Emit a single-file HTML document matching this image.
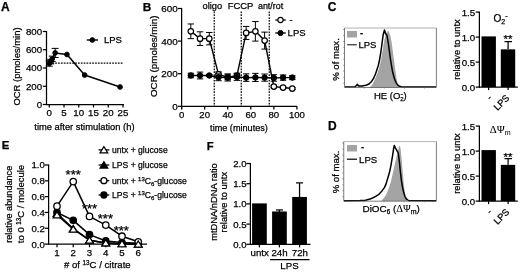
<!DOCTYPE html>
<html><head><meta charset="utf-8"><title>Figure</title>
<style>
html,body{margin:0;padding:0;background:#fff;}
svg{display:block;font-family:"Liberation Sans",sans-serif;fill:#000;}
text{stroke:#000;stroke-width:0.25px;}
</style></head><body>
<svg width="520" height="272" viewBox="0 0 520 272">
<rect width="520" height="272" fill="#fff"/>
<defs><filter id="soft" x="0" y="0" width="520" height="272" filterUnits="userSpaceOnUse"><feGaussianBlur stdDeviation="0.4"/></filter></defs>
<g filter="url(#soft)">
<text x="1.1" y="11.3" font-size="12" text-anchor="start" font-weight="bold" >A</text>
<line x1="46.5" y1="31.0" x2="46.5" y2="105.0" stroke="#000" stroke-width="1.25" />
<line x1="46.0" y1="104.5" x2="124" y2="104.5" stroke="#000" stroke-width="1.25" />
<line x1="42.8" y1="104.5" x2="46.5" y2="104.5" stroke="#000" stroke-width="1.25" />
<text x="42.1" y="107.9" font-size="9.7" text-anchor="end" font-weight="normal" >0</text>
<line x1="42.8" y1="86.25" x2="46.5" y2="86.25" stroke="#000" stroke-width="1.25" />
<text x="42.1" y="89.65" font-size="9.7" text-anchor="end" font-weight="normal" >200</text>
<line x1="42.8" y1="68.0" x2="46.5" y2="68.0" stroke="#000" stroke-width="1.25" />
<text x="42.1" y="71.4" font-size="9.7" text-anchor="end" font-weight="normal" >400</text>
<line x1="42.8" y1="49.75" x2="46.5" y2="49.75" stroke="#000" stroke-width="1.25" />
<text x="42.1" y="53.15" font-size="9.7" text-anchor="end" font-weight="normal" >600</text>
<line x1="42.8" y1="31.5" x2="46.5" y2="31.5" stroke="#000" stroke-width="1.25" />
<text x="42.1" y="34.9" font-size="9.7" text-anchor="end" font-weight="normal" >800</text>
<line x1="49.25" y1="104.5" x2="49.25" y2="107.5" stroke="#000" stroke-width="1.25" />
<text x="49.25" y="115.9" font-size="9.7" text-anchor="middle" font-weight="normal" >0</text>
<line x1="64.0" y1="104.5" x2="64.0" y2="107.5" stroke="#000" stroke-width="1.25" />
<text x="64.0" y="115.9" font-size="9.7" text-anchor="middle" font-weight="normal" >5</text>
<line x1="78.75" y1="104.5" x2="78.75" y2="107.5" stroke="#000" stroke-width="1.25" />
<text x="78.75" y="115.9" font-size="9.7" text-anchor="middle" font-weight="normal" >10</text>
<line x1="93.5" y1="104.5" x2="93.5" y2="107.5" stroke="#000" stroke-width="1.25" />
<text x="93.5" y="115.9" font-size="9.7" text-anchor="middle" font-weight="normal" >15</text>
<line x1="108.25" y1="104.5" x2="108.25" y2="107.5" stroke="#000" stroke-width="1.25" />
<text x="108.25" y="115.9" font-size="9.7" text-anchor="middle" font-weight="normal" >20</text>
<line x1="123.0" y1="104.5" x2="123.0" y2="107.5" stroke="#000" stroke-width="1.25" />
<text x="123.0" y="115.9" font-size="9.7" text-anchor="middle" font-weight="normal" >25</text>
<text transform="translate(20.2,66.5) rotate(-90)" font-size="9.45" text-anchor="middle" >OCR (pmoles/min)</text>
<text x="84.4" y="130.2" font-size="9.35" text-anchor="middle" font-weight="normal" >time after stimulation (h)</text>
<line x1="49.5" y1="63.2" x2="122.5" y2="63.2" stroke="#000" stroke-width="1.3" stroke-dasharray="1.7,1.15"/>
<polyline points="49.25,63.44 50.73,61.61 52.20,58.88 55.15,52.94 66.95,54.49 84.65,75.03 120.05,86.98" fill="none" stroke="#000" stroke-width="1.5" stroke-linejoin="round" />
<line x1="49.25" y1="60.70" x2="49.25" y2="66.17" stroke="#000" stroke-width="1.0" />
<line x1="45.75" y1="60.70" x2="52.75" y2="60.70" stroke="#000" stroke-width="1.0" />
<line x1="45.75" y1="66.17" x2="52.75" y2="66.17" stroke="#000" stroke-width="1.0" />
<line x1="50.73" y1="59.33" x2="50.73" y2="63.89" stroke="#000" stroke-width="1.0" />
<line x1="47.23" y1="59.33" x2="54.23" y2="59.33" stroke="#000" stroke-width="1.0" />
<line x1="47.23" y1="63.89" x2="54.23" y2="63.89" stroke="#000" stroke-width="1.0" />
<line x1="52.20" y1="56.14" x2="52.20" y2="61.61" stroke="#000" stroke-width="1.0" />
<line x1="48.70" y1="56.14" x2="55.70" y2="56.14" stroke="#000" stroke-width="1.0" />
<line x1="48.70" y1="61.61" x2="55.70" y2="61.61" stroke="#000" stroke-width="1.0" />
<line x1="55.15" y1="48.38" x2="55.15" y2="57.51" stroke="#000" stroke-width="1.0" />
<line x1="51.65" y1="48.38" x2="58.65" y2="48.38" stroke="#000" stroke-width="1.0" />
<line x1="51.65" y1="57.51" x2="58.65" y2="57.51" stroke="#000" stroke-width="1.0" />
<circle cx="49.25" cy="63.44" r="2.35" fill="#000" stroke="#000" stroke-width="1.0"/>
<circle cx="50.73" cy="61.61" r="2.35" fill="#000" stroke="#000" stroke-width="1.0"/>
<circle cx="52.20" cy="58.88" r="2.35" fill="#000" stroke="#000" stroke-width="1.0"/>
<circle cx="55.15" cy="52.94" r="2.35" fill="#000" stroke="#000" stroke-width="1.0"/>
<circle cx="66.95" cy="54.49" r="2.35" fill="#000" stroke="#000" stroke-width="1.0"/>
<circle cx="84.65" cy="75.03" r="2.35" fill="#000" stroke="#000" stroke-width="1.0"/>
<circle cx="120.05" cy="86.98" r="2.35" fill="#000" stroke="#000" stroke-width="1.0"/>
<line x1="86.8" y1="40" x2="98" y2="40" stroke="#000" stroke-width="1.4" />
<circle cx="92.30" cy="40.00" r="2.35" fill="#000" stroke="#000" stroke-width="1.0"/>
<text x="104" y="43.3" font-size="9.5" text-anchor="start" font-weight="normal" >LPS</text>
<text x="142.8" y="11.3" font-size="11.8" text-anchor="start" font-weight="bold" >B</text>
<line x1="181.6" y1="7.999999999999986" x2="181.6" y2="109.3" stroke="#000" stroke-width="1.25" />
<line x1="181.1" y1="106.3" x2="297" y2="106.3" stroke="#000" stroke-width="1.25" />
<line x1="177.9" y1="106.3" x2="181.6" y2="106.3" stroke="#000" stroke-width="1.25" />
<text x="177.79999999999998" y="109.7" font-size="9.9" text-anchor="end" font-weight="normal" >0</text>
<line x1="177.9" y1="73.69999999999999" x2="181.6" y2="73.69999999999999" stroke="#000" stroke-width="1.25" />
<text x="177.79999999999998" y="77.1" font-size="9.9" text-anchor="end" font-weight="normal" >200</text>
<line x1="177.9" y1="41.099999999999994" x2="181.6" y2="41.099999999999994" stroke="#000" stroke-width="1.25" />
<text x="177.79999999999998" y="44.49999999999999" font-size="9.9" text-anchor="end" font-weight="normal" >400</text>
<line x1="177.9" y1="8.499999999999986" x2="181.6" y2="8.499999999999986" stroke="#000" stroke-width="1.25" />
<text x="177.79999999999998" y="11.899999999999986" font-size="9.9" text-anchor="end" font-weight="normal" >600</text>
<line x1="181.6" y1="106.3" x2="181.6" y2="109.4" stroke="#000" stroke-width="1.25" />
<text x="181.6" y="118.3" font-size="9.6" text-anchor="middle" font-weight="normal" >0</text>
<line x1="204.66" y1="106.3" x2="204.66" y2="109.4" stroke="#000" stroke-width="1.25" />
<text x="204.66" y="118.3" font-size="9.6" text-anchor="middle" font-weight="normal" >20</text>
<line x1="227.72" y1="106.3" x2="227.72" y2="109.4" stroke="#000" stroke-width="1.25" />
<text x="227.72" y="118.3" font-size="9.6" text-anchor="middle" font-weight="normal" >40</text>
<line x1="250.78" y1="106.3" x2="250.78" y2="109.4" stroke="#000" stroke-width="1.25" />
<text x="250.78" y="118.3" font-size="9.6" text-anchor="middle" font-weight="normal" >60</text>
<line x1="273.84000000000003" y1="106.3" x2="273.84000000000003" y2="109.4" stroke="#000" stroke-width="1.25" />
<text x="273.84000000000003" y="118.3" font-size="9.6" text-anchor="middle" font-weight="normal" >80</text>
<line x1="296.9" y1="106.3" x2="296.9" y2="109.4" stroke="#000" stroke-width="1.25" />
<text x="296.9" y="118.3" font-size="9.6" text-anchor="middle" font-weight="normal" >100</text>
<text transform="translate(157.2,56.3) rotate(-90)" font-size="9.85" text-anchor="middle" >OCR (pmoles/min)</text>
<text x="239" y="131.3" font-size="9.15" text-anchor="middle" font-weight="normal" >time (minutes)</text>
<line x1="214.25" y1="11.5" x2="214.25" y2="106" stroke="#000" stroke-width="1.2" stroke-dasharray="1.7,1.15"/>
<line x1="241.25" y1="11.5" x2="241.25" y2="106" stroke="#000" stroke-width="1.2" stroke-dasharray="1.7,1.15"/>
<line x1="269.25" y1="11.5" x2="269.25" y2="106" stroke="#000" stroke-width="1.2" stroke-dasharray="1.7,1.15"/>
<text x="212.4" y="8.8" font-size="9.3" text-anchor="middle" font-weight="normal" >oligo</text>
<text x="240.5" y="8.6" font-size="9.45" text-anchor="middle" font-weight="normal" >FCCP</text>
<text x="270.6" y="8.8" font-size="8.9" text-anchor="middle" font-weight="normal" >ant/rot</text>
<polyline points="190.82,31.32 200.05,38.65 209.27,38.65 218.50,74.35 227.72,77.29 236.94,75.66 246.17,32.95 255.39,31.32 264.62,40.61 273.84,86.58 283.06,87.55 292.29,88.53" fill="none" stroke="#000" stroke-width="1.4" stroke-linejoin="round" />
<line x1="190.82" y1="23.98" x2="190.82" y2="38.65" stroke="#000" stroke-width="1.0" />
<line x1="187.62" y1="23.98" x2="194.02" y2="23.98" stroke="#000" stroke-width="1.0" />
<line x1="187.62" y1="38.65" x2="194.02" y2="38.65" stroke="#000" stroke-width="1.0" />
<line x1="200.05" y1="31.81" x2="200.05" y2="45.50" stroke="#000" stroke-width="1.0" />
<line x1="196.85" y1="31.81" x2="203.25" y2="31.81" stroke="#000" stroke-width="1.0" />
<line x1="196.85" y1="45.50" x2="203.25" y2="45.50" stroke="#000" stroke-width="1.0" />
<line x1="209.27" y1="32.46" x2="209.27" y2="44.85" stroke="#000" stroke-width="1.0" />
<line x1="206.07" y1="32.46" x2="212.47" y2="32.46" stroke="#000" stroke-width="1.0" />
<line x1="206.07" y1="44.85" x2="212.47" y2="44.85" stroke="#000" stroke-width="1.0" />
<line x1="218.50" y1="71.91" x2="218.50" y2="76.80" stroke="#000" stroke-width="1.0" />
<line x1="215.30" y1="71.91" x2="221.70" y2="71.91" stroke="#000" stroke-width="1.0" />
<line x1="215.30" y1="76.80" x2="221.70" y2="76.80" stroke="#000" stroke-width="1.0" />
<line x1="227.72" y1="74.84" x2="227.72" y2="79.73" stroke="#000" stroke-width="1.0" />
<line x1="224.52" y1="74.84" x2="230.92" y2="74.84" stroke="#000" stroke-width="1.0" />
<line x1="224.52" y1="79.73" x2="230.92" y2="79.73" stroke="#000" stroke-width="1.0" />
<line x1="236.94" y1="73.21" x2="236.94" y2="78.10" stroke="#000" stroke-width="1.0" />
<line x1="233.74" y1="73.21" x2="240.14" y2="73.21" stroke="#000" stroke-width="1.0" />
<line x1="233.74" y1="78.10" x2="240.14" y2="78.10" stroke="#000" stroke-width="1.0" />
<line x1="246.17" y1="26.43" x2="246.17" y2="39.47" stroke="#000" stroke-width="1.0" />
<line x1="242.97" y1="26.43" x2="249.37" y2="26.43" stroke="#000" stroke-width="1.0" />
<line x1="242.97" y1="39.47" x2="249.37" y2="39.47" stroke="#000" stroke-width="1.0" />
<line x1="255.39" y1="21.54" x2="255.39" y2="41.10" stroke="#000" stroke-width="1.0" />
<line x1="252.19" y1="21.54" x2="258.59" y2="21.54" stroke="#000" stroke-width="1.0" />
<line x1="252.19" y1="41.10" x2="258.59" y2="41.10" stroke="#000" stroke-width="1.0" />
<line x1="264.62" y1="32.13" x2="264.62" y2="49.09" stroke="#000" stroke-width="1.0" />
<line x1="261.42" y1="32.13" x2="267.82" y2="32.13" stroke="#000" stroke-width="1.0" />
<line x1="261.42" y1="49.09" x2="267.82" y2="49.09" stroke="#000" stroke-width="1.0" />
<line x1="273.84" y1="85.27" x2="273.84" y2="87.88" stroke="#000" stroke-width="1.0" />
<line x1="270.64" y1="85.27" x2="277.04" y2="85.27" stroke="#000" stroke-width="1.0" />
<line x1="270.64" y1="87.88" x2="277.04" y2="87.88" stroke="#000" stroke-width="1.0" />
<line x1="283.06" y1="86.58" x2="283.06" y2="88.53" stroke="#000" stroke-width="1.0" />
<line x1="279.86" y1="86.58" x2="286.26" y2="86.58" stroke="#000" stroke-width="1.0" />
<line x1="279.86" y1="88.53" x2="286.26" y2="88.53" stroke="#000" stroke-width="1.0" />
<line x1="292.29" y1="87.55" x2="292.29" y2="89.51" stroke="#000" stroke-width="1.0" />
<line x1="289.09" y1="87.55" x2="295.49" y2="87.55" stroke="#000" stroke-width="1.0" />
<line x1="289.09" y1="89.51" x2="295.49" y2="89.51" stroke="#000" stroke-width="1.0" />
<circle cx="190.82" cy="31.32" r="2.75" fill="#fff" stroke="#000" stroke-width="1.2"/>
<circle cx="200.05" cy="38.65" r="2.75" fill="#fff" stroke="#000" stroke-width="1.2"/>
<circle cx="209.27" cy="38.65" r="2.75" fill="#fff" stroke="#000" stroke-width="1.2"/>
<circle cx="218.50" cy="74.35" r="2.75" fill="#fff" stroke="#000" stroke-width="1.2"/>
<circle cx="227.72" cy="77.29" r="2.75" fill="#fff" stroke="#000" stroke-width="1.2"/>
<circle cx="236.94" cy="75.66" r="2.75" fill="#fff" stroke="#000" stroke-width="1.2"/>
<circle cx="246.17" cy="32.95" r="2.75" fill="#fff" stroke="#000" stroke-width="1.2"/>
<circle cx="255.39" cy="31.32" r="2.75" fill="#fff" stroke="#000" stroke-width="1.2"/>
<circle cx="264.62" cy="40.61" r="2.75" fill="#fff" stroke="#000" stroke-width="1.2"/>
<circle cx="273.84" cy="86.58" r="2.75" fill="#fff" stroke="#000" stroke-width="1.2"/>
<circle cx="283.06" cy="87.55" r="2.75" fill="#fff" stroke="#000" stroke-width="1.2"/>
<circle cx="292.29" cy="88.53" r="2.75" fill="#fff" stroke="#000" stroke-width="1.2"/>
<polyline points="190.82,75.49 200.05,75.49 209.27,75.49 218.50,77.29 227.72,77.45 236.94,76.96 246.17,77.61 255.39,77.45 264.62,77.61 273.84,77.94 283.06,77.61 292.29,77.61" fill="none" stroke="#000" stroke-width="1.4" stroke-linejoin="round" />
<line x1="190.82" y1="73.21" x2="190.82" y2="77.77" stroke="#000" stroke-width="1.0" />
<line x1="187.62" y1="73.21" x2="194.02" y2="73.21" stroke="#000" stroke-width="1.0" />
<line x1="187.62" y1="77.77" x2="194.02" y2="77.77" stroke="#000" stroke-width="1.0" />
<line x1="200.05" y1="72.07" x2="200.05" y2="78.92" stroke="#000" stroke-width="1.0" />
<line x1="196.85" y1="72.07" x2="203.25" y2="72.07" stroke="#000" stroke-width="1.0" />
<line x1="196.85" y1="78.92" x2="203.25" y2="78.92" stroke="#000" stroke-width="1.0" />
<line x1="209.27" y1="74.52" x2="209.27" y2="76.47" stroke="#000" stroke-width="1.0" />
<line x1="206.07" y1="74.52" x2="212.47" y2="74.52" stroke="#000" stroke-width="1.0" />
<line x1="206.07" y1="76.47" x2="212.47" y2="76.47" stroke="#000" stroke-width="1.0" />
<line x1="218.50" y1="73.86" x2="218.50" y2="80.71" stroke="#000" stroke-width="1.0" />
<line x1="215.30" y1="73.86" x2="221.70" y2="73.86" stroke="#000" stroke-width="1.0" />
<line x1="215.30" y1="80.71" x2="221.70" y2="80.71" stroke="#000" stroke-width="1.0" />
<line x1="227.72" y1="73.86" x2="227.72" y2="81.03" stroke="#000" stroke-width="1.0" />
<line x1="224.52" y1="73.86" x2="230.92" y2="73.86" stroke="#000" stroke-width="1.0" />
<line x1="224.52" y1="81.03" x2="230.92" y2="81.03" stroke="#000" stroke-width="1.0" />
<line x1="236.94" y1="73.54" x2="236.94" y2="80.38" stroke="#000" stroke-width="1.0" />
<line x1="233.74" y1="73.54" x2="240.14" y2="73.54" stroke="#000" stroke-width="1.0" />
<line x1="233.74" y1="80.38" x2="240.14" y2="80.38" stroke="#000" stroke-width="1.0" />
<line x1="246.17" y1="73.86" x2="246.17" y2="81.36" stroke="#000" stroke-width="1.0" />
<line x1="242.97" y1="73.86" x2="249.37" y2="73.86" stroke="#000" stroke-width="1.0" />
<line x1="242.97" y1="81.36" x2="249.37" y2="81.36" stroke="#000" stroke-width="1.0" />
<line x1="255.39" y1="73.37" x2="255.39" y2="81.52" stroke="#000" stroke-width="1.0" />
<line x1="252.19" y1="73.37" x2="258.59" y2="73.37" stroke="#000" stroke-width="1.0" />
<line x1="252.19" y1="81.52" x2="258.59" y2="81.52" stroke="#000" stroke-width="1.0" />
<line x1="264.62" y1="74.03" x2="264.62" y2="81.20" stroke="#000" stroke-width="1.0" />
<line x1="261.42" y1="74.03" x2="267.82" y2="74.03" stroke="#000" stroke-width="1.0" />
<line x1="261.42" y1="81.20" x2="267.82" y2="81.20" stroke="#000" stroke-width="1.0" />
<line x1="273.84" y1="74.68" x2="273.84" y2="81.20" stroke="#000" stroke-width="1.0" />
<line x1="270.64" y1="74.68" x2="277.04" y2="74.68" stroke="#000" stroke-width="1.0" />
<line x1="270.64" y1="81.20" x2="277.04" y2="81.20" stroke="#000" stroke-width="1.0" />
<line x1="283.06" y1="75.00" x2="283.06" y2="80.22" stroke="#000" stroke-width="1.0" />
<line x1="279.86" y1="75.00" x2="286.26" y2="75.00" stroke="#000" stroke-width="1.0" />
<line x1="279.86" y1="80.22" x2="286.26" y2="80.22" stroke="#000" stroke-width="1.0" />
<line x1="292.29" y1="75.66" x2="292.29" y2="79.57" stroke="#000" stroke-width="1.0" />
<line x1="289.09" y1="75.66" x2="295.49" y2="75.66" stroke="#000" stroke-width="1.0" />
<line x1="289.09" y1="79.57" x2="295.49" y2="79.57" stroke="#000" stroke-width="1.0" />
<circle cx="190.82" cy="75.49" r="2.75" fill="#000" stroke="#000" stroke-width="1.0"/>
<circle cx="200.05" cy="75.49" r="2.75" fill="#000" stroke="#000" stroke-width="1.0"/>
<circle cx="209.27" cy="75.49" r="2.75" fill="#000" stroke="#000" stroke-width="1.0"/>
<circle cx="218.50" cy="77.29" r="2.75" fill="#000" stroke="#000" stroke-width="1.0"/>
<circle cx="227.72" cy="77.45" r="2.75" fill="#000" stroke="#000" stroke-width="1.0"/>
<circle cx="236.94" cy="76.96" r="2.75" fill="#000" stroke="#000" stroke-width="1.0"/>
<circle cx="246.17" cy="77.61" r="2.75" fill="#000" stroke="#000" stroke-width="1.0"/>
<circle cx="255.39" cy="77.45" r="2.75" fill="#000" stroke="#000" stroke-width="1.0"/>
<circle cx="264.62" cy="77.61" r="2.75" fill="#000" stroke="#000" stroke-width="1.0"/>
<circle cx="273.84" cy="77.94" r="2.75" fill="#000" stroke="#000" stroke-width="1.0"/>
<circle cx="283.06" cy="77.61" r="2.75" fill="#000" stroke="#000" stroke-width="1.0"/>
<circle cx="292.29" cy="77.61" r="2.75" fill="#000" stroke="#000" stroke-width="1.0"/>
<line x1="275.3" y1="20" x2="285.8" y2="20" stroke="#000" stroke-width="1.3" />
<circle cx="280.50" cy="20.00" r="2.6" fill="#fff" stroke="#000" stroke-width="1.1"/>
<text x="289.5" y="23" font-size="9.5" text-anchor="start" font-weight="normal" >-</text>
<line x1="275.3" y1="33" x2="285.8" y2="33" stroke="#000" stroke-width="1.3" />
<circle cx="280.50" cy="33.00" r="2.6" fill="#000" stroke="#000" stroke-width="1.0"/>
<text x="287.6" y="36.3" font-size="9.5" text-anchor="start" font-weight="normal" >LPS</text>
<text x="327.8" y="11.3" font-size="12" text-anchor="start" font-weight="bold" >C</text>
<polygon points="369.50,87.50 372.00,85.00 374.00,81.50 375.70,77.50 377.50,73.00 379.00,68.50 380.30,63.50 381.50,57.50 382.80,49.50 384.00,41.50 385.50,35.50 387.00,31.50 388.50,31.00 390.00,34.50 391.50,41.50 393.50,56.50 395.10,68.50 396.40,77.50 397.60,83.50 399.00,87.50" fill="#a4a4a4"/>
<polyline points="345.00,87.00 355.00,86.70 356.50,85.50 357.50,84.30 358.50,86.00 362.00,86.00 366.00,85.30 369.00,84.00 371.50,81.50 373.50,78.50 375.50,74.00 377.00,69.50 378.30,65.50 379.50,60.00 380.80,52.50 382.00,43.50 383.20,34.50 384.50,30.00 385.50,33.50 387.00,35.50 388.50,44.50 390.50,59.50 392.50,71.50 394.50,79.00 396.50,83.50 398.50,85.70 401.50,86.90 436.00,87.10" fill="none" stroke="#000" stroke-width="1.5" stroke-linejoin="round" />
<polyline points="344.5,28 344.5,87.5 436.4,87.5 436.4,28" fill="none" stroke="#5a5a5a" stroke-width="0.8"/>
<line x1="344.5" y1="28" x2="436.4" y2="28" stroke="#a0a0a0" stroke-width="0.8"/>
<line x1="343.1" y1="29.50" x2="344.5" y2="29.50" stroke="#555" stroke-width="0.6"/>
<line x1="343.1" y1="35.45" x2="344.5" y2="35.45" stroke="#555" stroke-width="0.6"/>
<line x1="343.1" y1="41.40" x2="344.5" y2="41.40" stroke="#555" stroke-width="0.6"/>
<line x1="343.1" y1="47.35" x2="344.5" y2="47.35" stroke="#555" stroke-width="0.6"/>
<line x1="343.1" y1="53.30" x2="344.5" y2="53.30" stroke="#555" stroke-width="0.6"/>
<line x1="343.1" y1="59.25" x2="344.5" y2="59.25" stroke="#555" stroke-width="0.6"/>
<line x1="343.1" y1="65.20" x2="344.5" y2="65.20" stroke="#555" stroke-width="0.6"/>
<line x1="343.1" y1="71.15" x2="344.5" y2="71.15" stroke="#555" stroke-width="0.6"/>
<line x1="343.1" y1="77.10" x2="344.5" y2="77.10" stroke="#555" stroke-width="0.6"/>
<line x1="343.1" y1="83.05" x2="344.5" y2="83.05" stroke="#555" stroke-width="0.6"/>
<line x1="364.48" y1="87.5" x2="364.48" y2="88.7" stroke="#666" stroke-width="0.5"/>
<line x1="384.46" y1="87.5" x2="384.46" y2="88.7" stroke="#666" stroke-width="0.5"/>
<line x1="404.43" y1="87.5" x2="404.43" y2="88.7" stroke="#666" stroke-width="0.5"/>
<line x1="424.41" y1="87.5" x2="424.41" y2="88.7" stroke="#666" stroke-width="0.5"/>
<rect x="347" y="31" width="10" height="6.5" fill="#a4a4a4"/>
<text x="360" y="35.8" font-size="9.5" text-anchor="start" font-weight="bold" >-</text>
<line x1="347.2" y1="44.8" x2="356.8" y2="44.8" stroke="#000" stroke-width="1.0" />
<text x="358.5" y="48.3" font-size="9.5" text-anchor="start" font-weight="normal" >LPS</text>
<text transform="translate(339.1,59.5) rotate(-90)" font-size="9.6" text-anchor="middle" >% of max.</text>
<text x="390.3" y="99" font-size="9.5" text-anchor="middle" font-weight="normal" >HE (O<tspan font-size="6" dy="1.8">2</tspan><tspan font-size="7" dy="-5.2" dx="-3.2">-</tspan><tspan dy="3.4" dx="0.6">)</tspan></text>
<line x1="479.4" y1="11.599999999999994" x2="479.4" y2="87.6" stroke="#000" stroke-width="1.25" />
<line x1="478.9" y1="87.1" x2="517.8" y2="87.1" stroke="#000" stroke-width="1.25" />
<line x1="475.7" y1="87.1" x2="479.4" y2="87.1" stroke="#000" stroke-width="1.25" />
<text x="475.2" y="90.5" font-size="9.7" text-anchor="end" font-weight="normal" >0.0</text>
<line x1="475.7" y1="62.099999999999994" x2="479.4" y2="62.099999999999994" stroke="#000" stroke-width="1.25" />
<text x="475.2" y="65.5" font-size="9.7" text-anchor="end" font-weight="normal" >0.5</text>
<line x1="475.7" y1="37.099999999999994" x2="479.4" y2="37.099999999999994" stroke="#000" stroke-width="1.25" />
<text x="475.2" y="40.49999999999999" font-size="9.7" text-anchor="end" font-weight="normal" >1.0</text>
<line x1="475.7" y1="12.099999999999994" x2="479.4" y2="12.099999999999994" stroke="#000" stroke-width="1.25" />
<text x="475.2" y="15.499999999999995" font-size="9.7" text-anchor="end" font-weight="normal" >1.5</text>
<rect x="481.5" y="36.40" width="14.4" height="50.70" fill="#000"/>
<rect x="500.8" y="49.35" width="14.4" height="37.75" fill="#000"/>
<line x1="508.1" y1="49.349999999999994" x2="508.1" y2="41.599999999999994" stroke="#000" stroke-width="1.25" />
<line x1="504.5" y1="41.599999999999994" x2="512" y2="41.599999999999994" stroke="#000" stroke-width="1.25" />
<line x1="488.6" y1="87.1" x2="488.6" y2="90.1" stroke="#000" stroke-width="1.25" />
<line x1="508.1" y1="87.1" x2="508.1" y2="90.1" stroke="#000" stroke-width="1.25" />
<text x="508" y="42.5" font-size="11.5" text-anchor="middle" font-weight="normal" >**</text>
<text transform="translate(459.5,49.599999999999994) rotate(-90)" font-size="9.3" text-anchor="middle" >relative to untx</text>
<text transform="translate(492.4,98.5) rotate(-45)" font-size="9.3" text-anchor="end" >-</text>
<text transform="translate(510,98.5) rotate(-45)" font-size="9.3" text-anchor="end" >LPS</text>
<text x="500.5" y="22" font-size="10.1" text-anchor="middle" font-weight="normal" >O<tspan font-size="7" dy="2">2</tspan><tspan font-size="7" dy="-6.5">-</tspan></text>
<line x1="479.4" y1="125.6" x2="479.4" y2="201.6" stroke="#000" stroke-width="1.25" />
<line x1="478.9" y1="201.1" x2="517.8" y2="201.1" stroke="#000" stroke-width="1.25" />
<line x1="475.7" y1="201.1" x2="479.4" y2="201.1" stroke="#000" stroke-width="1.25" />
<text x="475.2" y="204.5" font-size="9.7" text-anchor="end" font-weight="normal" >0.0</text>
<line x1="475.7" y1="176.1" x2="479.4" y2="176.1" stroke="#000" stroke-width="1.25" />
<text x="475.2" y="179.5" font-size="9.7" text-anchor="end" font-weight="normal" >0.5</text>
<line x1="475.7" y1="151.1" x2="479.4" y2="151.1" stroke="#000" stroke-width="1.25" />
<text x="475.2" y="154.5" font-size="9.7" text-anchor="end" font-weight="normal" >1.0</text>
<line x1="475.7" y1="126.1" x2="479.4" y2="126.1" stroke="#000" stroke-width="1.25" />
<text x="475.2" y="129.5" font-size="9.7" text-anchor="end" font-weight="normal" >1.5</text>
<rect x="481.5" y="150.10" width="14.4" height="51.00" fill="#000"/>
<rect x="500.8" y="164.85" width="14.4" height="36.25" fill="#000"/>
<line x1="508.1" y1="164.85" x2="508.1" y2="158.6" stroke="#000" stroke-width="1.25" />
<line x1="504.5" y1="158.6" x2="512" y2="158.6" stroke="#000" stroke-width="1.25" />
<line x1="488.6" y1="201.1" x2="488.6" y2="204.1" stroke="#000" stroke-width="1.25" />
<line x1="508.1" y1="201.1" x2="508.1" y2="204.1" stroke="#000" stroke-width="1.25" />
<text x="508" y="160.79999999999998" font-size="11.5" text-anchor="middle" font-weight="normal" >**</text>
<text transform="translate(459.5,163.6) rotate(-90)" font-size="9.3" text-anchor="middle" >relative to untx</text>
<text transform="translate(492.4,212.5) rotate(-45)" font-size="9.3" text-anchor="end" >-</text>
<text transform="translate(510,212.5) rotate(-45)" font-size="9.3" text-anchor="end" >LPS</text>
<text x="500.2" y="133.2" font-size="10.8" text-anchor="middle" font-weight="normal" font-family="Liberation Serif, DejaVu Serif, serif" style="stroke-width:0.05px">ΔΨ<tspan font-size="7" dy="2" font-family="Liberation Sans">m</tspan></text>
<text x="328.1" y="130.2" font-size="12" text-anchor="start" font-weight="bold" >D</text>
<polygon points="381.00,201.10 383.50,198.60 386.00,195.10 388.50,189.10 390.50,183.10 392.00,177.10 393.50,170.10 395.50,161.10 397.50,153.10 398.80,147.10 399.60,145.50 400.50,148.10 401.60,159.10 402.60,171.10 403.50,181.10 404.40,189.10 405.50,196.10 407.00,201.10" fill="#a4a4a4"/>
<polyline points="344.00,200.70 360.00,200.60 365.50,200.20 370.00,199.10 374.00,197.30 378.50,194.70 381.50,191.60 384.40,187.60 386.00,184.10 387.40,179.40 389.50,172.30 391.00,165.10 392.50,156.10 393.60,148.60 394.30,145.50 395.20,147.60 398.20,152.80 399.20,160.10 400.30,171.10 401.50,181.10 402.60,187.60 403.80,193.10 405.00,196.60 406.50,199.10 408.50,200.50 436.00,200.70" fill="none" stroke="#000" stroke-width="1.5" stroke-linejoin="round" />
<polyline points="343.75,141.6 343.75,201.2 436.4,201.2 436.4,141.6" fill="none" stroke="#5a5a5a" stroke-width="0.8"/>
<line x1="343.75" y1="141.6" x2="436.4" y2="141.6" stroke="#a0a0a0" stroke-width="0.8"/>
<line x1="342.35" y1="143.10" x2="343.75" y2="143.10" stroke="#555" stroke-width="0.6"/>
<line x1="342.35" y1="149.06" x2="343.75" y2="149.06" stroke="#555" stroke-width="0.6"/>
<line x1="342.35" y1="155.02" x2="343.75" y2="155.02" stroke="#555" stroke-width="0.6"/>
<line x1="342.35" y1="160.98" x2="343.75" y2="160.98" stroke="#555" stroke-width="0.6"/>
<line x1="342.35" y1="166.94" x2="343.75" y2="166.94" stroke="#555" stroke-width="0.6"/>
<line x1="342.35" y1="172.90" x2="343.75" y2="172.90" stroke="#555" stroke-width="0.6"/>
<line x1="342.35" y1="178.86" x2="343.75" y2="178.86" stroke="#555" stroke-width="0.6"/>
<line x1="342.35" y1="184.82" x2="343.75" y2="184.82" stroke="#555" stroke-width="0.6"/>
<line x1="342.35" y1="190.78" x2="343.75" y2="190.78" stroke="#555" stroke-width="0.6"/>
<line x1="342.35" y1="196.74" x2="343.75" y2="196.74" stroke="#555" stroke-width="0.6"/>
<line x1="363.89" y1="201.2" x2="363.89" y2="202.39999999999998" stroke="#666" stroke-width="0.5"/>
<line x1="384.03" y1="201.2" x2="384.03" y2="202.39999999999998" stroke="#666" stroke-width="0.5"/>
<line x1="404.17" y1="201.2" x2="404.17" y2="202.39999999999998" stroke="#666" stroke-width="0.5"/>
<line x1="424.32" y1="201.2" x2="424.32" y2="202.39999999999998" stroke="#666" stroke-width="0.5"/>
<rect x="347" y="145" width="10" height="6.5" fill="#a4a4a4"/>
<text x="361" y="149.9" font-size="9.5" text-anchor="start" font-weight="bold" >-</text>
<line x1="346.9" y1="159.2" x2="357" y2="159.2" stroke="#000" stroke-width="1.2" />
<text x="359.1" y="162.8" font-size="9.6" text-anchor="start" font-weight="normal" >LPS</text>
<text transform="translate(338.8,172) rotate(-90)" font-size="9.6" text-anchor="middle" >% of max.</text>
<text x="391.2" y="211.7" font-size="9.9" text-anchor="middle" font-weight="normal" >DiOC<tspan font-size="6.3" dy="1.8">6</tspan><tspan dy="-1.8"> (</tspan><tspan font-family="Liberation Serif, DejaVu Serif, serif" font-size="10.5" style="stroke-width:0.05px">ΔΨ</tspan><tspan font-size="7" dy="1.8">m</tspan><tspan dy="-1.8">)</tspan></text>
<text x="1.7" y="149.4" font-size="11.4" text-anchor="start" font-weight="bold" >E</text>
<line x1="48.6" y1="164.5" x2="48.6" y2="244.6" stroke="#000" stroke-width="1.25" />
<line x1="48.1" y1="244.1" x2="147" y2="244.1" stroke="#000" stroke-width="1.25" />
<line x1="44.6" y1="244.1" x2="48.6" y2="244.1" stroke="#000" stroke-width="1.25" />
<text x="44.800000000000004" y="247.5" font-size="9.6" text-anchor="end" font-weight="normal" >0.0</text>
<line x1="44.6" y1="228.28" x2="48.6" y2="228.28" stroke="#000" stroke-width="1.25" />
<text x="44.800000000000004" y="231.68" font-size="9.6" text-anchor="end" font-weight="normal" >0.2</text>
<line x1="44.6" y1="212.45999999999998" x2="48.6" y2="212.45999999999998" stroke="#000" stroke-width="1.25" />
<text x="44.800000000000004" y="215.85999999999999" font-size="9.6" text-anchor="end" font-weight="normal" >0.4</text>
<line x1="44.6" y1="196.64" x2="48.6" y2="196.64" stroke="#000" stroke-width="1.25" />
<text x="44.800000000000004" y="200.04" font-size="9.6" text-anchor="end" font-weight="normal" >0.6</text>
<line x1="44.6" y1="180.82" x2="48.6" y2="180.82" stroke="#000" stroke-width="1.25" />
<text x="44.800000000000004" y="184.22" font-size="9.6" text-anchor="end" font-weight="normal" >0.8</text>
<line x1="44.6" y1="165.0" x2="48.6" y2="165.0" stroke="#000" stroke-width="1.25" />
<text x="44.800000000000004" y="168.4" font-size="9.6" text-anchor="end" font-weight="normal" >1.0</text>
<line x1="57.0" y1="244.1" x2="57.0" y2="247.3" stroke="#000" stroke-width="1.25" />
<text x="57.0" y="256.3" font-size="9.7" text-anchor="middle" font-weight="normal" >1</text>
<line x1="73.25" y1="244.1" x2="73.25" y2="247.3" stroke="#000" stroke-width="1.25" />
<text x="73.25" y="256.3" font-size="9.7" text-anchor="middle" font-weight="normal" >2</text>
<line x1="89.5" y1="244.1" x2="89.5" y2="247.3" stroke="#000" stroke-width="1.25" />
<text x="89.5" y="256.3" font-size="9.7" text-anchor="middle" font-weight="normal" >3</text>
<line x1="105.75" y1="244.1" x2="105.75" y2="247.3" stroke="#000" stroke-width="1.25" />
<text x="105.75" y="256.3" font-size="9.7" text-anchor="middle" font-weight="normal" >4</text>
<line x1="122.0" y1="244.1" x2="122.0" y2="247.3" stroke="#000" stroke-width="1.25" />
<text x="122.0" y="256.3" font-size="9.7" text-anchor="middle" font-weight="normal" >5</text>
<line x1="138.25" y1="244.1" x2="138.25" y2="247.3" stroke="#000" stroke-width="1.25" />
<text x="138.25" y="256.3" font-size="9.7" text-anchor="middle" font-weight="normal" >6</text>
<text transform="translate(12.3,204.3) rotate(-90)" font-size="9.15" text-anchor="middle" >relative abundance</text>
<text transform="translate(24.3,204) rotate(-90)" font-size="9.5" text-anchor="middle" >to 0 <tspan font-size="6.3" dy="-3">13</tspan><tspan dy="3">C / molecule</tspan></text>
<text x="97.3" y="268.2" font-size="9.6" text-anchor="middle" font-weight="normal" ># of <tspan font-size="6.3" dy="-3">13</tspan><tspan dy="3">C / citrate</tspan></text>
<polyline points="57.00,213.25 73.25,228.68 89.50,240.14 105.75,242.91 122.00,243.70 138.25,244.10" fill="none" stroke="#000" stroke-width="1.5" stroke-linejoin="round" />
<polygon points="57.00,210.01 53.10,216.29 60.90,216.29" fill="#000" stroke="#000" stroke-width="1.2" stroke-linejoin="miter"/>
<polygon points="73.25,225.44 69.35,231.72 77.15,231.72" fill="#000" stroke="#000" stroke-width="1.2" stroke-linejoin="miter"/>
<polygon points="89.50,236.91 85.60,243.19 93.40,243.19" fill="#000" stroke="#000" stroke-width="1.2" stroke-linejoin="miter"/>
<polygon points="105.75,239.68 101.85,245.96 109.65,245.96" fill="#000" stroke="#000" stroke-width="1.2" stroke-linejoin="miter"/>
<polygon points="122.00,240.47 118.10,246.75 125.90,246.75" fill="#000" stroke="#000" stroke-width="1.2" stroke-linejoin="miter"/>
<polygon points="138.25,240.86 134.35,247.14 142.15,247.14" fill="#000" stroke="#000" stroke-width="1.2" stroke-linejoin="miter"/>
<polyline points="57.00,212.46 73.25,220.37 89.50,234.61 105.75,240.94 122.00,242.52 138.25,243.31" fill="none" stroke="#000" stroke-width="1.5" stroke-linejoin="round" />
<circle cx="57.00" cy="212.46" r="3.2" fill="#000" stroke="#000" stroke-width="1.3"/>
<circle cx="73.25" cy="220.37" r="3.2" fill="#000" stroke="#000" stroke-width="1.3"/>
<circle cx="89.50" cy="234.61" r="3.2" fill="#000" stroke="#000" stroke-width="1.3"/>
<circle cx="105.75" cy="240.94" r="3.2" fill="#000" stroke="#000" stroke-width="1.3"/>
<circle cx="122.00" cy="242.52" r="3.2" fill="#000" stroke="#000" stroke-width="1.3"/>
<circle cx="138.25" cy="243.31" r="3.2" fill="#000" stroke="#000" stroke-width="1.3"/>
<polyline points="57.00,206.13 73.25,181.61 89.50,216.41 105.75,225.12 122.00,236.19 138.25,241.73" fill="none" stroke="#000" stroke-width="1.5" stroke-linejoin="round" />
<circle cx="57.00" cy="206.13" r="3.2" fill="#fff" stroke="#000" stroke-width="1.3"/>
<circle cx="73.25" cy="181.61" r="3.2" fill="#fff" stroke="#000" stroke-width="1.3"/>
<circle cx="89.50" cy="216.41" r="3.2" fill="#fff" stroke="#000" stroke-width="1.3"/>
<circle cx="105.75" cy="225.12" r="3.2" fill="#fff" stroke="#000" stroke-width="1.3"/>
<circle cx="122.00" cy="236.19" r="3.2" fill="#fff" stroke="#000" stroke-width="1.3"/>
<circle cx="138.25" cy="241.73" r="3.2" fill="#fff" stroke="#000" stroke-width="1.3"/>
<polyline points="57.00,214.83 73.25,229.07 89.50,240.14 105.75,242.91 122.00,243.70 138.25,244.10" fill="none" stroke="#000" stroke-width="1.5" stroke-linejoin="round" />
<polygon points="57.00,211.60 53.10,217.88 60.90,217.88" fill="#fff" stroke="#000" stroke-width="1.2" stroke-linejoin="miter"/>
<polygon points="73.25,225.83 69.35,232.11 77.15,232.11" fill="#fff" stroke="#000" stroke-width="1.2" stroke-linejoin="miter"/>
<polygon points="89.50,236.91 85.60,243.19 93.40,243.19" fill="#fff" stroke="#000" stroke-width="1.2" stroke-linejoin="miter"/>
<polygon points="105.75,239.68 101.85,245.96 109.65,245.96" fill="#fff" stroke="#000" stroke-width="1.2" stroke-linejoin="miter"/>
<polygon points="122.00,240.47 118.10,246.75 125.90,246.75" fill="#fff" stroke="#000" stroke-width="1.2" stroke-linejoin="miter"/>
<polygon points="138.25,240.86 134.35,247.14 142.15,247.14" fill="#fff" stroke="#000" stroke-width="1.2" stroke-linejoin="miter"/>
<text x="73.2" y="179.4" font-size="13" text-anchor="middle" font-weight="normal" >***</text>
<text x="89.5" y="212.6" font-size="13" text-anchor="middle" font-weight="normal" >***</text>
<text x="105.4" y="222.6" font-size="13" text-anchor="middle" font-weight="normal" >***</text>
<text x="121.3" y="234.7" font-size="13" text-anchor="middle" font-weight="normal" >***</text>
<line x1="98.6" y1="149.9" x2="109.3" y2="149.9" stroke="#000" stroke-width="1.3" />
<polygon points="103.90,146.66 100.00,152.94 107.80,152.94" fill="#fff" stroke="#000" stroke-width="1.2" stroke-linejoin="miter"/>
<text x="112" y="152.9" font-size="8.6" text-anchor="start" font-weight="normal" >untx + glucose</text>
<line x1="98.6" y1="165.0" x2="109.3" y2="165.0" stroke="#000" stroke-width="1.3" />
<polygon points="103.90,161.76 100.00,168.04 107.80,168.04" fill="#000" stroke="#000" stroke-width="1.2" stroke-linejoin="miter"/>
<text x="112" y="168.0" font-size="8.6" text-anchor="start" font-weight="normal" >LPS + glucose</text>
<line x1="98.6" y1="180.7" x2="109.3" y2="180.7" stroke="#000" stroke-width="1.3" />
<circle cx="103.90" cy="180.70" r="3.0" fill="#fff" stroke="#000" stroke-width="1.3"/>
<text x="112" y="183.7" font-size="8.6" text-anchor="start" font-weight="normal" >untx + <tspan font-size="6" dy="-3">13</tspan><tspan dy="3">C</tspan><tspan font-size="6" dy="1.8">6</tspan><tspan dy="-1.8">-glucose</tspan></text>
<line x1="98.6" y1="195" x2="109.3" y2="195" stroke="#000" stroke-width="1.3" />
<circle cx="103.90" cy="195.00" r="3.0" fill="#000" stroke="#000" stroke-width="1.3"/>
<text x="112" y="198" font-size="8.6" text-anchor="start" font-weight="normal" >LPS + <tspan font-size="6" dy="-3">13</tspan><tspan dy="3">C</tspan><tspan font-size="6" dy="1.8">6</tspan><tspan dy="-1.8">-glucose</tspan></text>
<text x="206.7" y="149.8" font-size="11.2" text-anchor="start" font-weight="bold" >F</text>
<line x1="250.4" y1="163.0" x2="250.4" y2="244.8" stroke="#000" stroke-width="1.25" />
<line x1="249.9" y1="244.3" x2="310.5" y2="244.3" stroke="#000" stroke-width="1.25" />
<line x1="246.4" y1="244.3" x2="250.4" y2="244.3" stroke="#000" stroke-width="1.25" />
<text x="246.5" y="247.70000000000002" font-size="9.6" text-anchor="end" font-weight="normal" >0.0</text>
<line x1="246.4" y1="224.10000000000002" x2="250.4" y2="224.10000000000002" stroke="#000" stroke-width="1.25" />
<text x="246.5" y="227.50000000000003" font-size="9.6" text-anchor="end" font-weight="normal" >0.5</text>
<line x1="246.4" y1="203.9" x2="250.4" y2="203.9" stroke="#000" stroke-width="1.25" />
<text x="246.5" y="207.3" font-size="9.6" text-anchor="end" font-weight="normal" >1.0</text>
<line x1="246.4" y1="183.70000000000002" x2="250.4" y2="183.70000000000002" stroke="#000" stroke-width="1.25" />
<text x="246.5" y="187.10000000000002" font-size="9.6" text-anchor="end" font-weight="normal" >1.5</text>
<line x1="246.4" y1="163.5" x2="250.4" y2="163.5" stroke="#000" stroke-width="1.25" />
<text x="246.5" y="166.9" font-size="9.6" text-anchor="end" font-weight="normal" >2.0</text>
<rect x="252.1" y="203.40" width="14.70" height="40.90" fill="#000"/>
<rect x="272.1" y="211.48" width="14.70" height="32.82" fill="#000"/>
<line x1="279.45000000000005" y1="211.98000000000002" x2="279.45000000000005" y2="209.96" stroke="#000" stroke-width="1.25" />
<line x1="275.95000000000005" y1="209.96" x2="282.95000000000005" y2="209.96" stroke="#000" stroke-width="1.25" />
<rect x="292.2" y="196.94" width="14.70" height="47.36" fill="#000"/>
<line x1="299.54999999999995" y1="197.436" x2="299.54999999999995" y2="182.892" stroke="#000" stroke-width="1.25" />
<line x1="296.04999999999995" y1="182.892" x2="303.04999999999995" y2="182.892" stroke="#000" stroke-width="1.25" />
<line x1="259.4" y1="244.3" x2="259.4" y2="247.4" stroke="#000" stroke-width="1.25" />
<line x1="279.4" y1="244.3" x2="279.4" y2="247.4" stroke="#000" stroke-width="1.25" />
<line x1="299.6" y1="244.3" x2="299.6" y2="247.4" stroke="#000" stroke-width="1.25" />
<text x="259.7" y="255.5" font-size="9.7" text-anchor="middle" font-weight="normal" >untx</text>
<text x="279.5" y="255.5" font-size="9.7" text-anchor="middle" font-weight="normal" >24h</text>
<text x="299.9" y="255.5" font-size="9.7" text-anchor="middle" font-weight="normal" >72h</text>
<line x1="270" y1="259.6" x2="309.5" y2="259.6" stroke="#000" stroke-width="1.3" />
<text x="289.5" y="268.5" font-size="9.7" text-anchor="middle" font-weight="normal" >LPS</text>
<text transform="translate(217,202) rotate(-90)" font-size="9.3" text-anchor="middle" >mtDNA/nDNA ratio</text>
<text transform="translate(227.3,202.2) rotate(-90)" font-size="9.3" text-anchor="middle" >relative to untx</text>
</g>
</svg>
</body></html>
